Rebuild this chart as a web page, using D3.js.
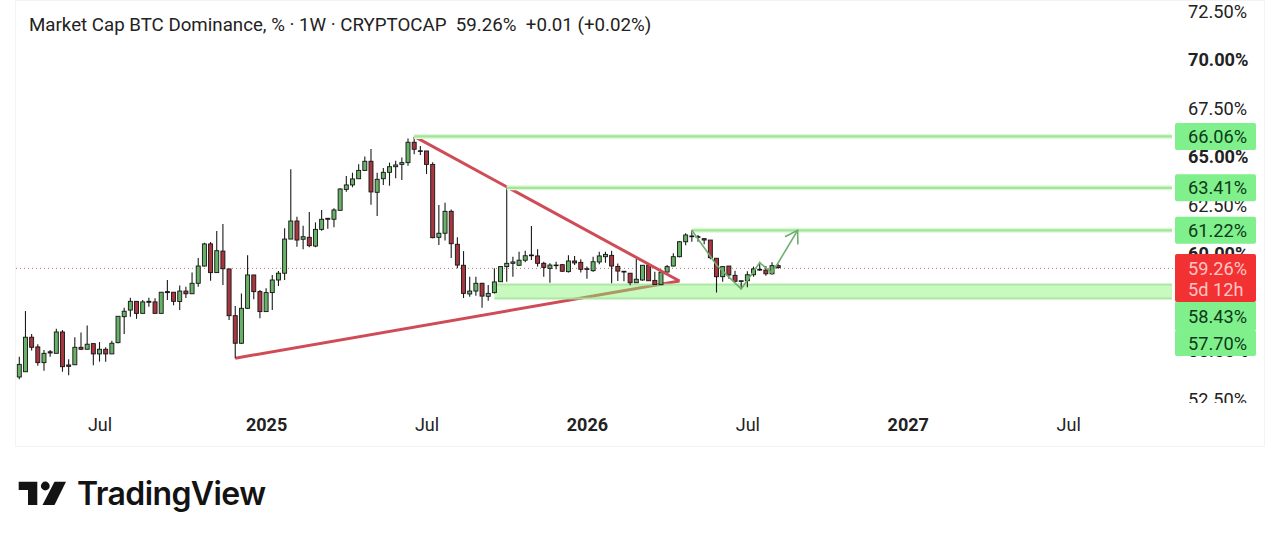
<!DOCTYPE html>
<html><head><meta charset="utf-8">
<script src="https://cdn.jsdelivr.net/npm/d3@7"></script>
<style>html,body{margin:0;padding:0;background:#fff;overflow:hidden}svg{display:block}text{font-family:Roboto,sans-serif}</style>
</head><body><svg id="c" width="1280" height="540"></svg>
<script>
const opens=[53.66,53.93,55.71,55.21,54.40,54.96,54.88,55.98,54.28,54.29,55.19,55.09,55.38,54.85,55.09,54.85,55.43,56.77,57.11,57.56,56.94,57.51,57.53,56.94,58.06,58.03,57.55,58.09,57.95,58.49,59.38,60.52,59.04,60.15,59.23,56.82,55.40,57.20,58.92,58.06,57.03,58.01,58.66,59.01,60.77,61.70,60.76,60.86,60.41,61.27,61.79,61.79,62.25,63.33,63.56,63.88,64.31,64.78,63.18,63.88,64.21,64.50,64.62,64.71,65.76,65.32,65.31,64.62,60.86,61.07,62.20,60.50,59.42,57.94,58.09,58.49,57.82,58.01,58.57,59.35,59.52,59.42,59.68,59.91,59.90,59.52,59.26,59.40,59.45,59.09,59.64,59.57,59.24,59.14,59.59,59.86,59.93,59.36,59.11,59.01,58.52,58.66,59.42,58.64,58.42,59.07,59.38,59.86,60.63,60.89,60.89,60.79,60.72,59.78,58.83,59.38,58.90,58.62,58.62,58.93,59.17,59.17,58.98,59.40];
const highs=[54.71,57.06,55.88,55.35,55.05,55.05,56.15,56.08,54.57,55.71,55.96,56.32,55.38,55.46,55.19,55.53,56.79,57.23,57.75,57.56,57.63,57.75,57.72,58.03,58.66,58.03,58.37,58.31,59.05,59.79,60.58,60.62,61.19,61.55,59.23,57.32,57.97,59.93,58.92,58.14,58.23,58.92,59.12,61.33,64.37,61.92,61.46,62.17,61.63,62.27,61.84,62.36,63.39,64.02,64.19,64.62,65.02,65.41,64.19,64.43,64.71,64.81,64.98,65.96,66.05,65.57,65.31,64.73,62.53,62.64,62.30,60.86,60.15,58.83,58.83,58.52,58.40,59.26,59.38,63.45,59.86,60.12,60.17,61.44,60.24,59.60,59.52,59.60,59.49,59.93,59.90,59.73,59.35,59.86,60.12,60.12,60.17,59.51,59.11,59.01,59.74,59.42,59.42,59.09,59.09,59.43,60.04,60.67,61.07,61.24,60.98,60.81,60.72,59.78,59.38,59.38,59.14,58.62,59.11,59.35,59.60,59.38,59.57,59.47];
const lows=[53.54,53.93,55.02,54.24,53.98,54.71,54.88,53.93,53.75,54.29,55.05,55.09,54.26,54.45,54.45,54.85,55.40,55.88,56.77,56.66,56.94,57.28,56.94,56.94,57.63,57.36,57.11,57.73,57.95,58.31,59.35,58.62,59.04,58.40,56.60,54.62,55.36,57.17,57.67,56.69,57.03,57.11,58.35,58.66,60.77,60.38,60.24,60.35,60.35,61.20,61.30,61.38,62.25,63.21,63.44,63.88,64.28,62.54,61.96,63.56,63.52,63.90,63.81,64.55,65.14,65.10,64.12,60.81,60.46,60.69,59.79,59.26,57.73,57.80,57.85,57.23,57.59,57.97,58.56,58.57,58.83,59.38,59.57,59.69,59.35,58.83,58.52,59.21,59.09,59.04,59.43,59.04,58.73,59.09,59.47,59.55,58.49,58.61,58.59,58.39,58.52,58.62,58.61,58.42,58.42,59.04,59.35,59.83,60.45,60.63,60.63,60.50,59.73,58.01,58.57,58.73,58.56,58.18,58.28,58.83,59.14,58.88,58.93,59.24];
const closes=[54.31,55.71,55.19,54.40,54.88,54.90,55.98,54.19,54.21,55.19,55.09,55.35,54.85,55.09,54.85,55.40,56.79,57.05,57.56,56.94,57.53,57.56,56.94,58.03,58.01,57.56,58.09,57.95,58.49,59.38,60.52,59.04,60.17,59.24,56.82,55.40,57.20,58.92,58.06,57.03,58.01,58.66,59.01,60.77,61.70,60.72,60.89,60.43,61.27,61.79,61.84,62.27,63.35,63.56,63.87,64.31,64.78,63.20,63.85,64.21,64.50,64.59,64.71,65.76,65.40,65.29,64.62,60.84,61.07,62.20,60.53,59.43,57.97,58.09,58.49,57.83,57.97,58.56,59.35,59.52,59.59,59.68,59.91,59.95,59.52,59.31,59.43,59.43,59.11,59.64,59.54,59.21,59.21,59.60,59.90,59.98,59.38,59.12,59.07,58.52,58.70,59.42,58.62,58.42,59.06,59.35,59.86,60.63,60.98,60.93,60.86,60.72,59.81,58.83,59.35,58.92,58.59,58.59,58.93,59.23,59.21,58.98,59.40,59.30];

const yTickValues=[72.5,70,67.5,65,62.5,60,55,52.5];
const yMajorTicks=[70,65,60,55];
const xTickDates=["2024-07-01","2025-01-06","2025-07-07","2026-01-05","2026-07-06","2027-01-04","2027-07-05"];
const xTickLabels=["Jul","2025","Jul","2026","Jul","2027","Jul"];
const xMajorLabels=["2025","2026","2027"];

const levelValues=[66.06,63.41,61.22];
const levelStarts=["2025-06-23","2025-10-06","2026-05-04"];
const zoneTop=58.43, zoneBottom=57.70, zoneStart="2025-09-22";
const apexDate="2026-04-20", apexValue=58.61;
const upperStart=["2025-06-23",66.06];
const lowerStart=["2024-12-02",54.63];
const arrowDates=["2026-05-04","2026-06-01","2026-06-29","2026-07-20","2026-08-03","2026-09-01"];
const arrowValues=[61.22,59.43,58.20,59.55,59.02,61.22];
const lastPrice=59.26;
const title="Market Cap BTC Dominance, % · 1W · CRYPTOCAP  59.26%  +0.01 (+0.02%)";
const greenLabels=["66.06%","63.41%","61.22%"];
const stackedLabels=["58.43%","57.70%"];
const priceLabel="59.26%", countdown="5d 12h";

const svg=d3.select("#c");
const P=d=>new Date(d+"T00:00:00Z");
const weeks=d3.utcMonday.range(P("2024-04-01"),d3.utcDay.offset(P("2024-04-01"),7*opens.length));
const day=6.17/7;
const x=d3.scaleUtc().domain([P("2024-04-01"),d3.utcDay.offset(P("2024-04-01"),1000)]).range([19.3,19.3+1000*day]);
const y=d3.scaleLinear().domain([70,60]).range([60,254]);
const paneR=1172;

const GREEN="#68b268", RED="#a8363f", LEVEL="#a3e49b", HALO="#daf9d4", TREND="#cf4c57", ARROW="#6fae6f";

// frame
svg.append("path").attr("d","M15.5 0.5V446.5H1264.5V0.5Z").attr("fill","none").attr("stroke","#f1f3f4");

// last price line
svg.append("line").attr("x1",16).attr("x2",paneR+3).attr("y1",y(lastPrice)).attr("y2",y(lastPrice))
 .attr("stroke","#b8786f").attr("stroke-dasharray","1 3").attr("stroke-width",1);

// lower trend line below the zone
const ln=d3.line().x(d=>x(P(d[0]))).y(d=>y(d[1]));
svg.append("path").attr("d",ln([lowerStart,[apexDate,apexValue]])).attr("fill","none").attr("stroke",TREND).attr("stroke-width",3);

// zone
svg.append("rect").attr("x",x(P(zoneStart))).attr("width",paneR-x(P(zoneStart))).attr("y",y(zoneTop)).attr("height",y(zoneBottom)-y(zoneTop))
 .attr("fill","#86f574").attr("fill-opacity",.45);
[zoneTop,zoneBottom].forEach(v=>svg.append("line").attr("x1",x(P(zoneStart))).attr("x2",paneR).attr("y1",y(v)).attr("y2",y(v))
 .attr("stroke",LEVEL).attr("stroke-opacity",.85).attr("stroke-width",2));

// candles
const g=svg.append("g").selectAll("g").data(weeks).join("g");
g.append("line").attr("x1",d=>x(d)).attr("x2",d=>x(d))
 .attr("y1",(d,i)=>y(highs[i])).attr("y2",(d,i)=>y(lows[i])).attr("stroke","#1a1a1a").attr("stroke-width",1.1);
g.append("rect").attr("x",d=>x(d)-2).attr("width",4)
 .attr("y",(d,i)=>y(Math.max(opens[i],closes[i])))
 .attr("height",(d,i)=>Math.max(.6,Math.abs(y(opens[i])-y(closes[i]))))
 .attr("fill",(d,i)=>closes[i]>=opens[i]?GREEN:RED).attr("stroke","#141414").attr("stroke-width",.9);

// upper trend line and levels
svg.append("path").attr("d",ln([upperStart,[apexDate,apexValue]])).attr("fill","none").attr("stroke",TREND).attr("stroke-width",3);
levelValues.forEach((v,i)=>{
 svg.append("line").attr("x1",x(P(levelStarts[i]))).attr("x2",paneR).attr("y1",y(v)).attr("y2",y(v)).attr("stroke",HALO).attr("stroke-width",5);
 svg.append("line").attr("x1",x(P(levelStarts[i]))).attr("x2",paneR).attr("y1",y(v)).attr("y2",y(v)).attr("stroke",LEVEL).attr("stroke-width",2.2);
});

// arrow
svg.append("defs").append("marker").attr("id","head").attr("markerUnits","userSpaceOnUse").attr("markerWidth",30).attr("markerHeight",30)
 .attr("refX",15).attr("refY",15).attr("orient","auto")
 .append("path").attr("d","M3 7.5L15 15L3 22.5").attr("fill","none").attr("stroke",ARROW).attr("stroke-width",1.6);
svg.append("path").attr("d",ln(arrowDates.map((d,i)=>[d,arrowValues[i]]))).attr("fill","none").attr("stroke",ARROW).attr("stroke-width",1.6).attr("marker-end","url(#head)");

// axes
const defs=svg.select("defs");
defs.append("clipPath").attr("id","yclip").append("rect").attr("x",1100).attr("y",0).attr("width",180).attr("height",403);
const ya=svg.append("g").attr("clip-path","url(#yclip)").append("g").attr("transform","translate(1188,0)")
 .call(d3.axisRight(y).tickValues(yTickValues).tickSize(0).tickPadding(0).tickFormat(d=>d3.format(".2f")(d)+"%"));
ya.select(".domain").remove();
ya.selectAll("text").attr("font-size",18.2).attr("font-family","Roboto").attr("fill","#222")
 .attr("font-weight",d=>yMajorTicks.includes(d)?700:400);

const xa=svg.append("g").attr("transform","translate(0,418)")
 .call(d3.axisBottom(x).tickValues(xTickDates.map(P)).tickSize(0).tickPadding(0).tickFormat((d,i)=>xTickLabels[i]));
xa.select(".domain").remove();
xa.selectAll("text").attr("font-size",18).attr("font-family","Roboto").attr("fill","#222")
 .attr("font-weight",(d,i)=>xMajorLabels.includes(xTickLabels[i])?700:400);

// price labels
const BOX="#7ff08b", INK="#0d3a1a";
function box(y0,y1,fill,r=2){svg.append("rect").attr("x",1175).attr("width",81).attr("y",y0).attr("height",y1-y0).attr("rx",r).attr("fill",fill);}
function lab(t,cy,fill){svg.append("text").attr("x",1188).attr("y",cy).attr("dy",".35em").attr("font-size",18.2).attr("fill",fill).text(t);}
levelValues.forEach((v,i)=>{const c=y(v);box(c-13.5,c+13.5,BOX);lab(greenLabels[i],c,INK);});
box(302,330,BOX,0);box(330,356,BOX);
lab(stackedLabels[0],317,INK);lab(stackedLabels[1],344,INK);
box(254,302,"#f23232");
lab(priceLabel,y(lastPrice),"#ffc4c4");lab(countdown,290,"#ffc4c4");

// title
svg.append("text").attr("x",29).attr("y",31).attr("font-size",18.72).attr("fill","#222").attr("xml:space","preserve").style("white-space","pre").text(title);

// logo
const logo=svg.append("g").attr("fill","#131313");
logo.append("path").attr("d","M18.7 481.7H37.3V505H28V490H18.7Z");
logo.append("circle").attr("cx",45.3).attr("cy",486).attr("r",4.4);
logo.append("path").attr("d","M54.5 481.7H66L54.5 505H42.5Z");
logo.append("text").attr("x",77).attr("y",505).attr("font-size",32).attr("font-weight",600).attr("letter-spacing",-.6).style("font-family","Inter,Roboto,sans-serif").text("TradingView");
</script></body></html>
